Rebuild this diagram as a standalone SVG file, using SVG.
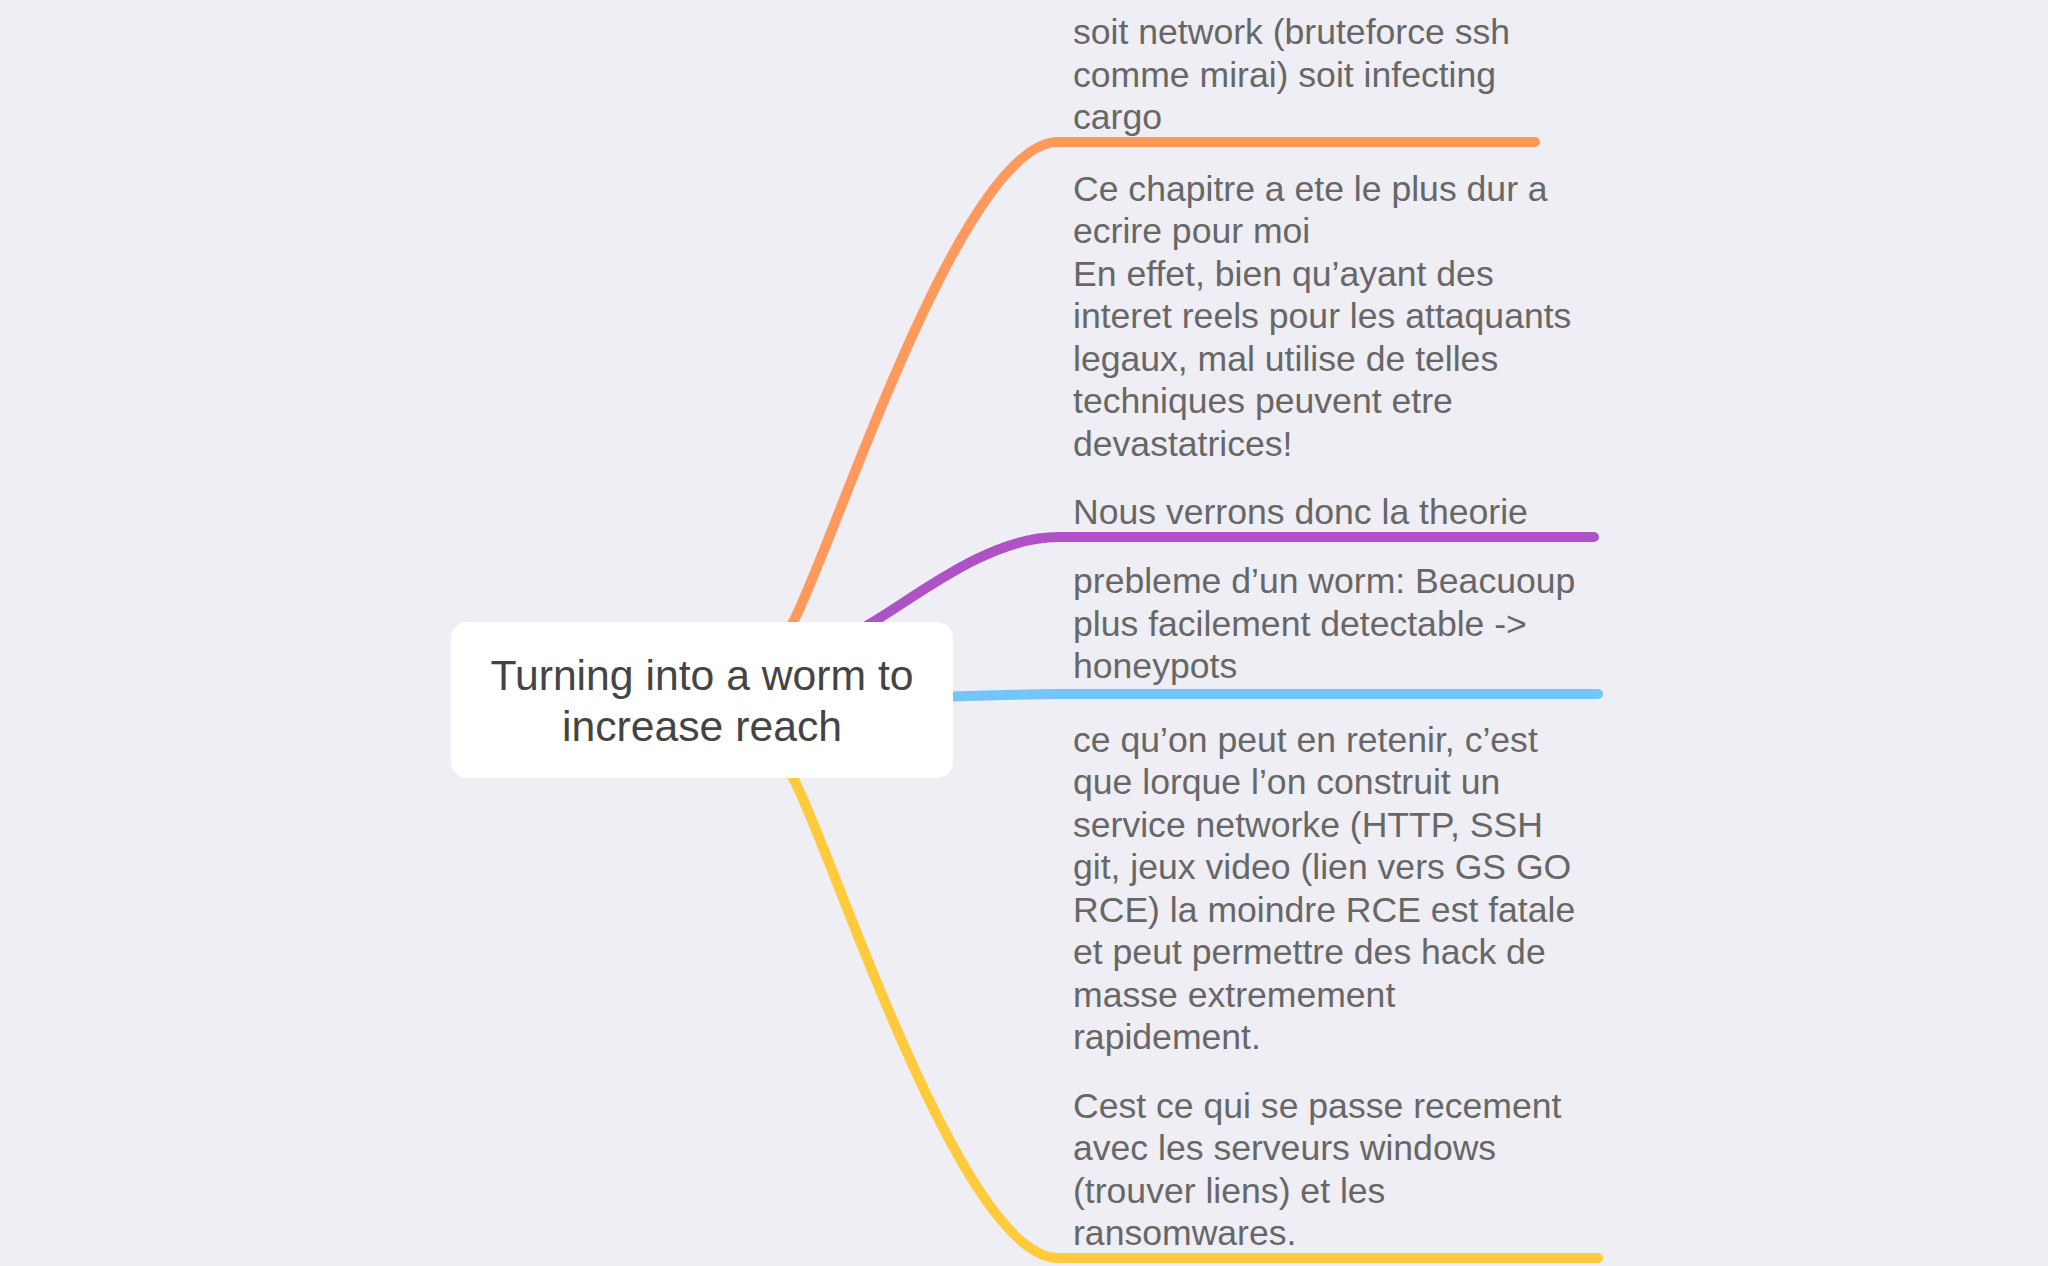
<svg xmlns="http://www.w3.org/2000/svg" width="2048" height="1266" viewBox="0 0 2048 1266">
<style>
.bg{fill:#EFEEF4}
.br{fill:none;stroke-width:10;stroke-linecap:round;stroke-linejoin:round}
.lbl{font-family:"Liberation Sans",Arial,Helvetica,sans-serif;font-size:35.6px;fill:#676767}
.ctr{font-family:"Liberation Sans",Arial,Helvetica,sans-serif;font-size:42.7px;fill:#444444;text-anchor:middle}
</style>
<rect class="bg" x="0" y="0" width="2048" height="1266"/>
<g id="connectors">
<path class="br" stroke="#FF9A5C" d="M780 645 L793 622 C830 556 960 142 1058 142 L1535 142"/>
<path class="br" stroke="#AF52C6" d="M839 642 L873 622 C920 594 990 537 1058 537 L1594 537"/>
<path class="br" stroke="#74C5FA" d="M935 697 C1000 695 1030 694 1058 694 L1598 694"/>
<path class="br" stroke="#FFCA3C" d="M780 755 L793 778 C830 844 960 1258 1058 1258 L1598 1258"/>
</g>
<g id="central">
<rect x="451" y="622" width="502" height="156" rx="16" fill="#FFFFFF"/>
<text class="ctr"><tspan x="702" y="690">Turning into a worm to</tspan><tspan x="702" y="741">increase reach</tspan></text>
</g>
<g id="topic-orange">
<text class="lbl"><tspan x="1073" y="44">soit network (bruteforce ssh</tspan><tspan x="1073" y="86.5">comme mirai) soit infecting</tspan><tspan x="1073" y="129">cargo</tspan></text>
</g>
<g id="topic-purple">
<text class="lbl"><tspan x="1073" y="200.5">Ce chapitre a ete le plus dur a</tspan><tspan x="1073" y="243">ecrire pour moi</tspan><tspan x="1073" y="285.5">En effet, bien qu’ayant des</tspan><tspan x="1073" y="328">interet reels pour les attaquants</tspan><tspan x="1073" y="370.5">legaux, mal utilise de telles</tspan><tspan x="1073" y="413">techniques peuvent etre</tspan><tspan x="1073" y="455.5">devastatrices!</tspan><tspan x="1073" y="524">Nous verrons donc la theorie</tspan></text>
</g>
<g id="topic-blue">
<text class="lbl"><tspan x="1073" y="593">prebleme d’un worm: Beacuoup</tspan><tspan x="1073" y="635.5">plus facilement detectable -&gt;</tspan><tspan x="1073" y="678">honeypots</tspan></text>
</g>
<g id="topic-yellow">
<text class="lbl"><tspan x="1073" y="751.5">ce qu’on peut en retenir, c’est</tspan><tspan x="1073" y="794">que lorque l’on construit un</tspan><tspan x="1073" y="836.5">service networke (HTTP, SSH</tspan><tspan x="1073" y="879">git, jeux video (lien vers GS GO</tspan><tspan x="1073" y="921.5">RCE) la moindre RCE est fatale</tspan><tspan x="1073" y="964">et peut permettre des hack de</tspan><tspan x="1073" y="1006.5">masse extremement</tspan><tspan x="1073" y="1049">rapidement.</tspan><tspan x="1073" y="1117.5">Cest ce qui se passe recement</tspan><tspan x="1073" y="1160">avec les serveurs windows</tspan><tspan x="1073" y="1202.5">(trouver liens) et les</tspan><tspan x="1073" y="1245">ransomwares.</tspan></text>
</g>
</svg>
